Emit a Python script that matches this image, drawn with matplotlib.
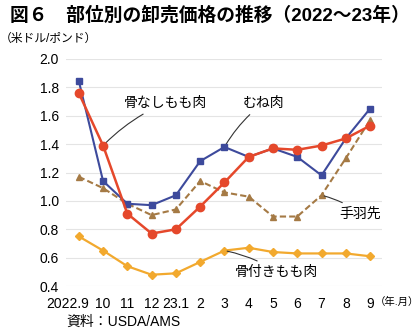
import matplotlib
matplotlib.use("Agg")
import matplotlib.pyplot as plt
import matplotlib.transforms as mtrans

plt.rcParams['font.family'] = ['Liberation Sans', 'Noto Sans CJK JP', 'DejaVu Sans']

months = ["2022.9", "10", "11", "12", "23.1", "2", "3", "4", "5", "6", "7", "8", "9"]
mune = [1.845, 1.14, 0.98, 0.97, 1.04, 1.28, 1.38, 1.31, 1.37, 1.31, 1.18, 1.44, 1.65]
honenashi = [1.76, 1.39, 0.91, 0.77, 0.80, 0.96, 1.13, 1.31, 1.37, 1.36, 1.39, 1.44, 1.53]
tebasaki = [1.17, 1.09, 0.98, 0.90, 0.94, 1.14, 1.06, 1.03, 0.89, 0.89, 1.04, 1.30, 1.57]
honetsuki = [0.75, 0.65, 0.54, 0.48, 0.49, 0.57, 0.65, 0.67, 0.64, 0.63, 0.63, 0.63, 0.61]
yticks = [0.4, 0.6, 0.8, 1.0, 1.2, 1.4, 1.6, 1.8, 2.0]

c_blue = "#3d4a9c"
c_red = "#e5482b"
c_brown = "#a57a45"
c_orange = "#f2a92e"

fig = plt.figure(figsize=(4.2, 3.35), dpi=100)
ax = fig.add_axes([0.157, 0.146, 0.753, 0.678])
x = list(range(len(months)))

ax.plot(x, honetsuki, color=c_orange, lw=1.6, marker="D", ms=4.5, zorder=3)
ax.plot(x, tebasaki, color=c_brown, lw=1.5, ls=(0, (3, 1.5)), marker="^", ms=4.5, zorder=3)
ax.plot(x, mune, color=c_blue, lw=1.5, marker="s", ms=4.5, zorder=4)
ax.plot(x, honenashi, color=c_red, lw=1.8, marker="o", ms=6, zorder=5)

ax.set_ylim(0.4, 2.0)
ax.set_xlim(-0.53, 12.5)
ax.set_yticks(yticks)
ax.set_yticklabels([f"{v:.1f}" for v in yticks], fontsize=10)
ax.set_xticks(x)
ax.set_xticklabels(months, fontsize=10)
ax.tick_params(length=0, pad=5)
ax.tick_params(axis='x', pad=8)
first = ax.get_xticklabels()[0]
first.set_transform(first.get_transform() + mtrans.ScaledTranslation(-11 / 100, 0, fig.dpi_scale_trans))
ax.grid(axis='y', color="#e4e4e4", lw=0.8)
ax.set_axisbelow(True)
for s in ax.spines.values():
    s.set_visible(False)

lk = dict(color="#333333", lw=0.8)
ax.annotate("骨なしもも肉", xy=(1, honenashi[1]), xytext=(1.85, 1.69), fontsize=10,
            va="center", ha="left",
            arrowprops=dict(arrowstyle="-", connectionstyle="arc3,rad=0.1", **lk))
ax.annotate("むね肉", xy=(6, mune[6]), xytext=(6.75, 1.69), fontsize=10,
            va="center", ha="left",
            arrowprops=dict(arrowstyle="-", connectionstyle="arc3,rad=0.1", **lk))
ax.annotate("手羽先", xy=(10, tebasaki[10]), xytext=(10.75, 0.91), fontsize=10,
            va="center", ha="left",
            arrowprops=dict(arrowstyle="-", connectionstyle="arc3,rad=0.1", **lk))
ax.annotate("骨付きもも肉", xy=(6, honetsuki[6]), xytext=(6.45, 0.50), fontsize=10,
            va="center", ha="left",
            arrowprops=dict(arrowstyle="-", connectionstyle="arc3,rad=0.1", **lk))

fig.text(0.025, 0.955, "図６　部位別の卸売価格の推移（2022～23年）", fontsize=13.5,
         fontweight="bold", va="center", ha="left")
fig.text(0.0, 0.885, "（米ドル/ポンド）", fontsize=8.5, va="center", ha="left")
fig.text(0.892, 0.1, "（年.月）", fontsize=7.5, va="center", ha="left")
fig.text(0.293, 0.038, "資料：USDA/AMS", fontsize=10, va="center", ha="center")

fig.savefig("out.png", dpi=100)
